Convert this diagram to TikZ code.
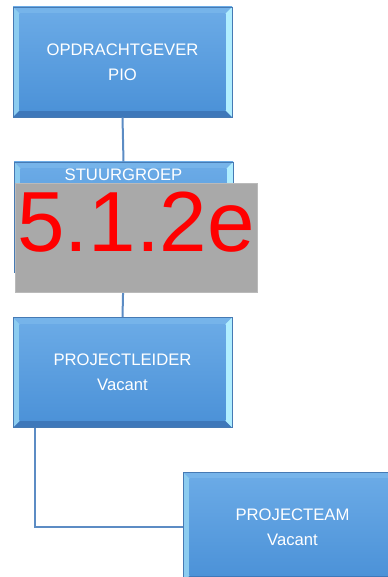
\documentclass[tikz,border=0pt]{standalone}
\usepackage{fontspec}
\setmainfont{Liberation Sans}
\definecolor{facetop}{RGB}{106,170,230}
\definecolor{facebot}{RGB}{76,146,216}
\definecolor{boxrim}{RGB}{70,122,180}
\definecolor{bevtop}{RGB}{118,180,234}
\definecolor{bevbot}{RGB}{62,120,186}
\definecolor{bevleft}{RGB}{140,204,240}
\definecolor{bevright}{RGB}{176,238,255}
\definecolor{linkblue}{RGB}{92,140,196}
\definecolor{redact}{RGB}{169,169,169}
\tikzset{every picture/.style={line width=0.75pt}}
\tikzset{
  orgbox/.style={rectangle, minimum width=164.25pt, minimum height=82.5pt,
    top color=facetop, bottom color=facebot, draw=boxrim, line width=0.6pt,
    text=white, align=center, font=\fontsize{12.5}{18.5}\selectfont,
    path picture={
      \fill[bevtop] (path picture bounding box.north west) -- (path picture bounding box.north east)
        -- ([xshift=-5pt,yshift=-5pt]path picture bounding box.north east) -- ([xshift=5pt,yshift=-5pt]path picture bounding box.north west) -- cycle;
      \fill[bevbot] (path picture bounding box.south west) -- (path picture bounding box.south east)
        -- ([xshift=-5pt,yshift=5pt]path picture bounding box.south east) -- ([xshift=5pt,yshift=5pt]path picture bounding box.south west) -- cycle;
      \fill[bevleft] (path picture bounding box.north west) -- ([xshift=5pt,yshift=-5pt]path picture bounding box.north west)
        -- ([xshift=5pt,yshift=5pt]path picture bounding box.south west) -- (path picture bounding box.south west) -- cycle;
      \fill[bevright] (path picture bounding box.north east) -- ([xshift=-5pt,yshift=-5pt]path picture bounding box.north east)
        -- ([xshift=-5pt,yshift=5pt]path picture bounding box.south east) -- (path picture bounding box.south east) -- cycle;
      \fill[top color=facetop, bottom color=facebot] ([xshift=5pt,yshift=-5pt]path picture bounding box.north west) rectangle ([xshift=-5pt,yshift=5pt]path picture bounding box.south east);
    }},
  link/.style={draw=linkblue, line width=1.5pt}
}

\begin{document}
\begin{tikzpicture}[x=0.75pt,y=0.75pt,yscale=-1,xscale=1]
	\useasboundingbox (0,0) rectangle (388,577);
	
	%Shape: Bevel [id:opdrachtgever] 
	\node [orgbox] (client) at (122.5,62) {OPDRACHTGEVER\\PIO};
	%Shape: Bevel [id:stuurgroep] 
	\node [orgbox] (board) at (123.5,217) {};
	%Shape: Bevel [id:projectleider] 
	\node [orgbox] (lead) at (122.5,372.5) {PROJECTLEIDER\\Vacant};
	%Shape: Bevel [id:projectteam] 
	\node [orgbox] (team) at (292.5,527) {PROJECTEAM\\Vacant};
	
	% Text Node
	\node [anchor=north, inner sep=0.75pt, text=white, font=\fontsize{12.5}{14}\selectfont] (boardtxt) at (board.north) [yshift=-4.5pt] {STUURGROEP};
	
	% Connection
	\draw [link] (client.south) -- (board.north) ;
	% Connection
	\draw [link] (board.south) -- (lead.north) ;
	% Connection
	\draw [link] ([xshift=16.5pt]lead.south west) |- (team.west) ;
	
	%Shape: Rectangle [id:redaction] 
	\node [rectangle, fill=redact, draw=redact!80, line width=0.5pt, minimum width=181.5pt, minimum height=81.75pt, anchor=north west, inner sep=0pt] (mask) at (15,183) {};
	% Text Node
	\node [anchor=base west, inner sep=0pt, text=red, font=\fontsize{64}{64}\selectfont] (code) at (17,251) {5.1.2e};
	
\end{tikzpicture}
\end{document}
